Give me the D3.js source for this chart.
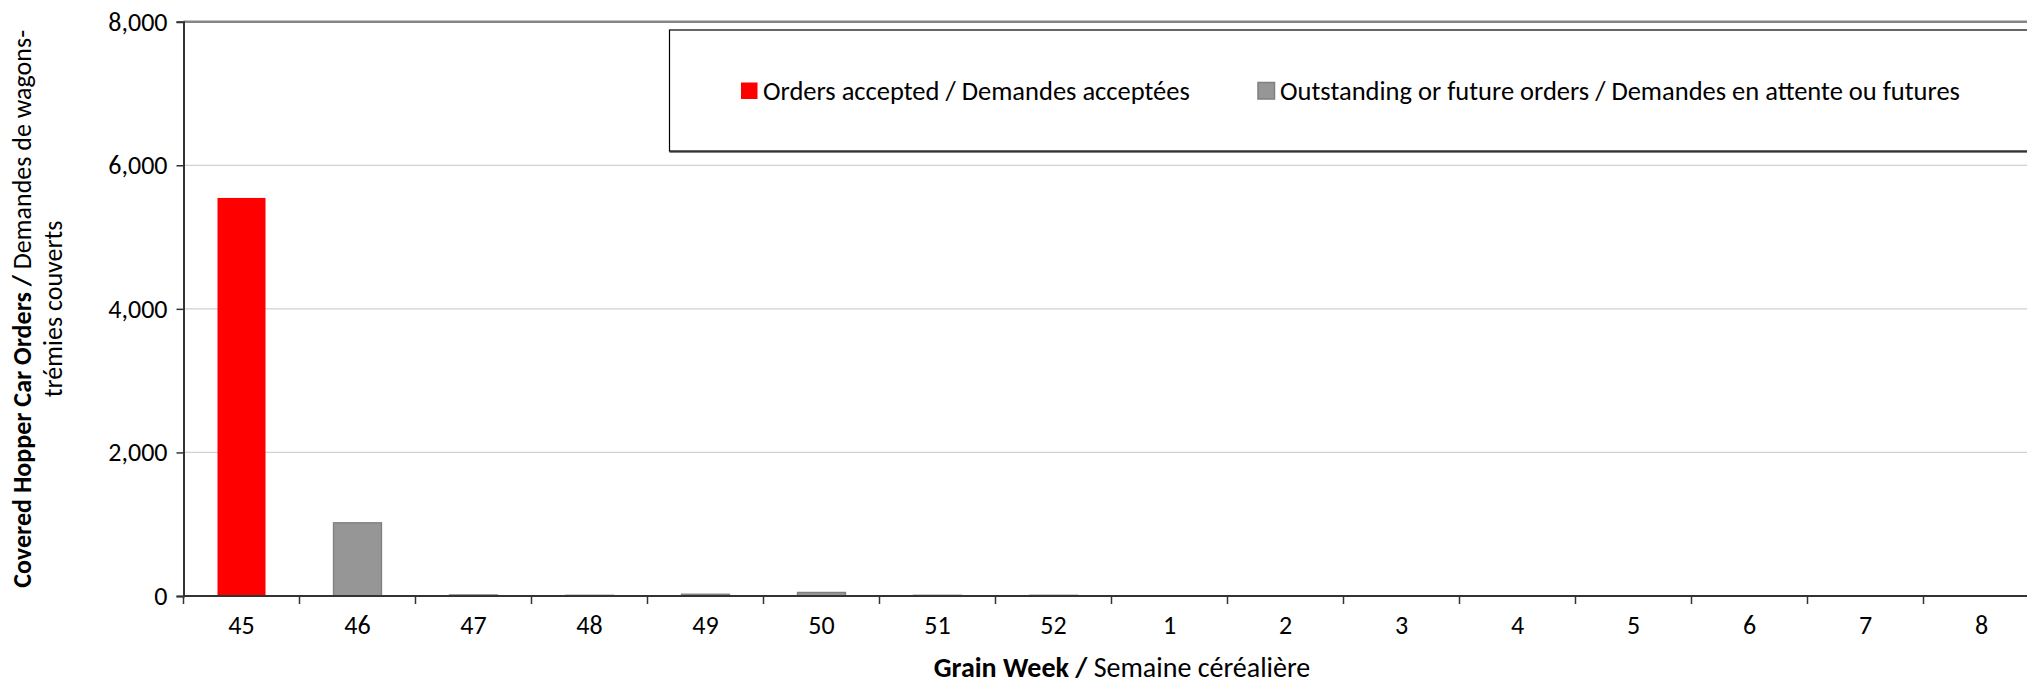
<!DOCTYPE html>
<html>
<head>
<meta charset="utf-8">
<script src="https://cdn.jsdelivr.net/npm/d3@7"></script>
<style>
  html, body { margin: 0; padding: 0; background: #fff; }
  svg { display: block; font-family: Carlito, Calibri, Lato, sans-serif; }
</style>
</head>
<body>
<div id="chart"></div>
<script>
const weeks = ['45', '46', '47', '48', '49', '50', '51', '52', '1', '2', '3', '4', '5', '6', '7', '8']
const accepted = [5545, 0, 0, 0, 0, 0, 0, 0, 0, 0, 0, 0, 0, 0, 0, 0]
const outstanding = [0, 1020, 15, 10, 25, 50, 10, 10, 0, 0, 0, 0, 0, 0, 0, 0]
const yTicks = [0, 2000, 4000, 6000, 8000]
const seriesNames = ['Orders accepted / Demandes acceptées', 'Outstanding or future orders / Demandes en attente ou futures']

const width = 2027
const height = 684
const plot = { left: 183.5, right: 2039.5, top: 21.7, bottom: 596 }
const fontSize = 26

const svg = d3.select('#chart')
  .append('svg')
  .attr('width', width)
  .attr('height', height)

const x = d3.scaleBand()
  .domain(weeks)
  .range([plot.left, plot.right])
  .paddingInner(0.586)
  .paddingOuter(0.293)

const y = d3.scaleLinear()
  .domain([0, 8000])
  .range([plot.bottom, plot.top])

// gridlines
svg.append('g')
  .selectAll('line')
  .data(yTicks.slice(1, -1))
  .enter()
  .append('line')
  .attr('x1', plot.left)
  .attr('x2', plot.right)
  .attr('y1', (d) => y(d))
  .attr('y2', (d) => y(d))
  .attr('stroke', '#d0d0d0')
  .attr('stroke-width', 1.3)

// plot area top border
svg.append('line')
  .attr('x1', plot.left)
  .attr('x2', plot.right)
  .attr('y1', y(8000))
  .attr('y2', y(8000))
  .attr('stroke', '#868686')
  .attr('stroke-width', 2.5)

// stacked bars
const stack = weeks.map((w, i) => ({ week: w, a: accepted[i], o: outstanding[i] }))

svg.append('g')
  .selectAll('rect')
  .data(stack.filter((d) => d.a > 0))
  .enter()
  .append('rect')
  .attr('x', (d) => x(d.week))
  .attr('width', x.bandwidth())
  .attr('y', (d) => y(d.a))
  .attr('height', (d) => y(0) - y(d.a))
  .attr('fill', '#ff0000')

svg.append('g')
  .selectAll('rect')
  .data(stack.filter((d) => d.o > 0))
  .enter()
  .append('rect')
  .attr('x', (d) => x(d.week))
  .attr('width', x.bandwidth())
  .attr('y', (d) => y(d.a + d.o))
  .attr('height', (d) => y(d.a) - y(d.a + d.o))
  .attr('fill', '#969696')
  .attr('stroke', '#7f7f7f')
  .attr('stroke-width', 1.3)

// y axis
const yAxis = svg.append('g')
  .attr('transform', `translate(${plot.left},0)`)
  .call(d3.axisLeft(y).tickValues(yTicks).tickFormat(d3.format(',')).tickSize(7).tickPadding(9))
  .attr('font-family', null)
  .attr('font-size', fontSize)
yAxis.select('.domain').attr('stroke', '#333').attr('stroke-width', 2)
yAxis.selectAll('.tick line').attr('stroke', '#333').attr('stroke-width', 1.5)
yAxis.selectAll('text').attr('fill', '#000')

// x axis: labels at centres, ticks at boundaries
const xAxis = svg.append('g')
  .attr('transform', `translate(0,${plot.bottom})`)
  .call(d3.axisBottom(x).tickSize(0).tickPadding(20))
  .attr('font-family', null)
  .attr('font-size', fontSize)
xAxis.select('.domain').remove()
xAxis.selectAll('text').attr('fill', '#000')

svg.append('line')
  .attr('x1', plot.left)
  .attr('x2', plot.right)
  .attr('y1', plot.bottom)
  .attr('y2', plot.bottom)
  .attr('stroke', '#333')
  .attr('stroke-width', 2.2)

svg.append('g')
  .selectAll('line')
  .data(d3.range(weeks.length + 1))
  .enter()
  .append('line')
  .attr('x1', (i) => plot.left + i * x.step())
  .attr('x2', (i) => plot.left + i * x.step())
  .attr('y1', plot.bottom)
  .attr('y2', plot.bottom + 8)
  .attr('stroke', '#333')
  .attr('stroke-width', 1.5)

// axis titles
const xTitle = svg.append('text')
  .attr('x', 1122)
  .attr('y', 677)
  .attr('text-anchor', 'middle')
  .attr('font-size', 28)
xTitle.append('tspan').attr('font-weight', 'bold').text('Grain Week / ')
xTitle.append('tspan').text('Semaine céréalière')

const yTitle = svg.append('text')
  .attr('transform', `translate(0,${(plot.top + plot.bottom) / 2}) rotate(-90)`)
  .attr('text-anchor', 'middle')
  .attr('font-size', fontSize)
const line1 = yTitle.append('tspan').attr('x', 0).attr('y', 31)
line1.append('tspan').attr('font-weight', 'bold').text('Covered Hopper Car Orders / ')
line1.append('tspan').text('Demandes de wagons-')
yTitle.append('tspan').attr('x', 0).attr('y', 62).text('trémies couverts')

// legend
const legend = svg.append('g')
legend.append('line')
  .attr('x1', 669.5).attr('x2', width)
  .attr('y1', 152).attr('y2', 152)
  .attr('stroke', '#808080').attr('stroke-width', 2)
legend.append('rect')
  .attr('x', 669.5)
  .attr('y', 30)
  .attr('width', width)
  .attr('height', 121)
  .attr('fill', '#fff')
  .attr('stroke', '#000')
  .attr('stroke-width', 1.2)

const legendItems = [
  { name: seriesNames[0], x: 741, fill: '#ff0000', stroke: 'none' },
  { name: seriesNames[1], x: 1258, fill: '#969696', stroke: '#7f7f7f' },
]
const li = legend.selectAll('.item')
  .data(legendItems)
  .enter()
  .append('g')
  .attr('class', 'item')
  .attr('transform', (d) => `translate(${d.x},82.5)`)
li.append('rect')
  .attr('width', 16.5)
  .attr('height', 16.5)
  .attr('fill', (d) => d.fill)
  .attr('stroke', (d) => d.stroke)
  .attr('stroke-width', 1.5)
li.append('text')
  .attr('x', 22)
  .attr('y', 17)
  .attr('font-size', 26.5)
  .text((d) => d.name)
</script>
</body>
</html>
